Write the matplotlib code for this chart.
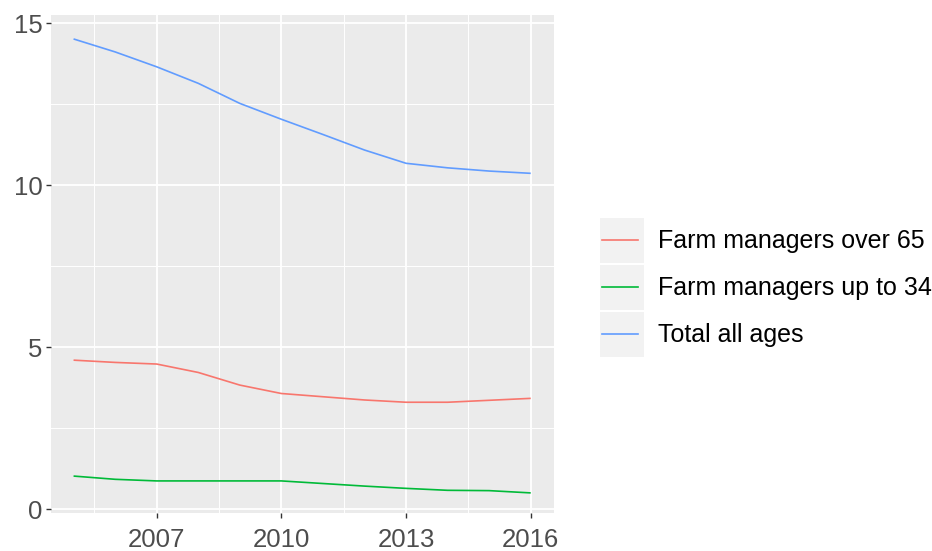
import matplotlib
matplotlib.use("Agg")
import matplotlib.pyplot as plt
from matplotlib.patches import Rectangle
from matplotlib.lines import Line2D

years = [2005, 2006, 2007, 2008, 2009, 2010, 2011, 2012, 2013, 2014, 2015, 2016]
over_65 = [4.60, 4.53, 4.48, 4.22, 3.83, 3.57, 3.47, 3.37, 3.30, 3.30, 3.36, 3.42]
up_to_34 = [1.02, 0.92, 0.87, 0.87, 0.87, 0.87, 0.79, 0.71, 0.64, 0.58, 0.57, 0.50]
total = [14.52, 14.12, 13.66, 13.15, 12.53, 12.04, 11.57, 11.09, 10.68, 10.54, 10.44, 10.37]

series_names = ["Farm managers over 65", "Farm managers up to 34", "Total all ages"]
series_values = [over_65, up_to_34, total]
series_colors = ["#F8766D", "#00BA38", "#619CFF"]

x_ticks = [2007, 2010, 2013, 2016]
y_ticks = [0, 5, 10, 15]

plt.rcParams['font.family'] = ['Liberation Sans', 'DejaVu Sans']

W, H = 932, 551
fig = plt.figure(figsize=(W / 100, H / 100), dpi=100)

def px_axes(x0, y0, x1, y1):
    return fig.add_axes([x0 / W, 1 - y1 / H, (x1 - x0) / W, (y1 - y0) / H])

ax = px_axes(50.7, 15, 554, 513.3)
ax.set_facecolor("#EBEBEB")
for s in ax.spines.values():
    s.set_visible(False)

for name, vals, col in zip(series_names, series_values, series_colors):
    ax.plot(years, vals, color=col, lw=1.2, solid_capstyle="butt", zorder=3)

ax.set_xlim(2004.45, 2016.56)
ax.set_ylim(-0.13, 15.26)
ax.set_xticks(x_ticks)
ax.set_xticklabels([str(t) for t in x_ticks])
ax.set_yticks(y_ticks)
ax.set_yticklabels([str(t) for t in y_ticks])
ax.set_xticks([2005.5, 2008.5, 2011.5, 2014.5], minor=True)
ax.set_yticks([2.5, 7.5, 12.5], minor=True)
ax.grid(which="major", color="white", lw=1.3, zorder=1)
ax.grid(which="minor", color="white", lw=0.7, zorder=1)
ax.set_axisbelow(True)
ax.tick_params(which="major", length=3.5, width=1.0, color="#333333",
               labelcolor="#4D4D4D", labelsize=18.5, pad=2.5)
ax.tick_params(axis="x", which="major", pad=7)
ax.tick_params(which="minor", length=0)

# legend drawn in its own pixel-positioned axes
lg = px_axes(598, 216, 932, 359)
lg.set_xlim(598, 932)
lg.set_ylim(359, 216)
lg.axis("off")
key_tops = [218, 265, 312]
for name, col, top in zip(series_names, series_colors, key_tops):
    lg.add_patch(Rectangle((600, top), 44, 45, facecolor="#F2F2F2", edgecolor="none"))
    lg.add_line(Line2D([602, 638], [top + 22.5, top + 22.5], color=col, lw=1.2))
    lg.text(658, top + 23, name, va="center", ha="left", fontsize=18, color="black")

fig.savefig("out.png", dpi=100, facecolor="white")
